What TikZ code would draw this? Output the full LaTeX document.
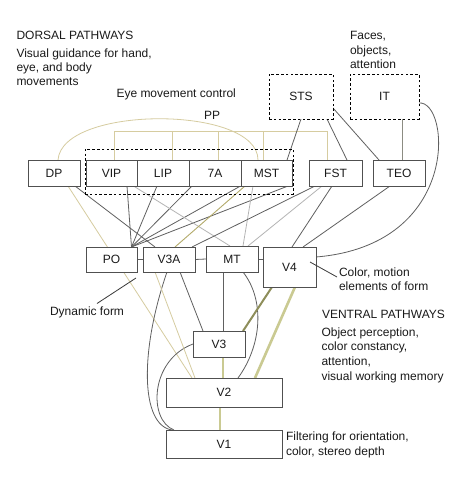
\documentclass[tikz,border=0pt]{standalone}
\usepackage{fontspec}
\setmainfont{Liberation Sans}
\usetikzlibrary{backgrounds,calc}
\definecolor{boxc}{HTML}{505050}
\definecolor{darkc}{HTML}{606060}
\definecolor{lightc}{HTML}{B4B4B4}
\definecolor{tanc}{HTML}{D6CCA0}
\definecolor{olivec}{HTML}{B3AA6A}
\definecolor{thickc}{HTML}{CACA92}
\definecolor{thickd}{HTML}{8E8E5A}
\definecolor{itc}{HTML}{8C8C82}
\definecolor{txtc}{HTML}{1A1A1A}
\definecolor{leadc}{HTML}{3A3A3A}
\begin{document}
\begin{tikzpicture}[x=1pt,y=-1pt,
  font=\fontsize{12}{14}\selectfont,
  box/.style={draw=boxc,line width=0.9pt,fill=white,inner sep=0pt,outer sep=0pt,minimum height=26pt,text=txtc},
  dbox/.style={draw=black,line width=0.85pt,dash pattern=on 2.6pt off 2.2pt,fill=white,inner sep=0pt,outer sep=0pt,text=txtc},
  lbl/.style={inner sep=0pt,outer sep=0pt,anchor=base west,text=txtc},
  dk/.style={draw=darkc,line width=0.8pt},
  lt/.style={draw=lightc,line width=0.8pt},
  tn/.style={draw=tanc,line width=0.8pt},
  ol/.style={draw=olivec,line width=0.9pt},
  thk/.style={draw=thickc,line width=2.6pt},
  thd/.style={draw=thickd,line width=2pt},
  lead/.style={draw=leadc,line width=0.8pt}]
\useasboundingbox (0,0) rectangle (457,484);

% boxes
\node[box,minimum width=52pt] (DP) at (54,173) {DP};
\node[box,minimum width=51pt] (VIP) at (111.5,173) {VIP};
\node[box,minimum width=52pt] (LIP) at (163,173) {LIP};
\node[box,minimum width=52pt] (A7) at (215,173) {7A};
\node[box,minimum width=51pt] (MST) at (266.5,173) {MST};
\node[box,minimum width=53pt] (FST) at (335.5,173) {FST};
\node[box,minimum width=52pt] (TEO) at (399,173) {TEO};
\node[dbox,minimum width=64pt,minimum height=45pt] (STS) at (301,96.5) {STS};
\node[dbox,minimum width=69pt,minimum height=45pt] (IT) at (384.5,96.5) {IT};
\node[dbox,fill=none,minimum width=208pt,minimum height=45pt] (PPbox) at (189,171.5) {};
\node[box,minimum width=51pt,minimum height=25pt] (PO) at (111.5,259.5) {PO};
\node[box,minimum width=52pt,minimum height=25pt] (V3A) at (169,259.5) {V3A};
\node[box,minimum width=52pt] (MT) at (232,259) {MT};
\node[box,minimum width=53pt,minimum height=40pt] (V4) at (289.5,267) {V4};
\node[box,minimum width=52pt] (V3) at (219,344) {V3};
\node[box,minimum width=116pt,minimum height=29pt] (V2) at (224,392.5) {V2};
\node[box,minimum width=116pt,minimum height=28pt] (V1) at (224,444) {V1};

% texts
\node[lbl] (dors) at (16.5,40) {DORSAL PATHWAYS};
\node[lbl] (dors1) at (16.5,57.5) {Visual guidance for hand,};
\node[lbl] (dors2) at (16.5,72) {eye, and body};
\node[lbl] (dors3) at (16.5,86) {movements};
\node[lbl] (eye) at (116.5,97.5) {Eye movement control};
\node[lbl] (pplbl) at (204,119) {PP};
\node[lbl] (face1) at (350,40) {Faces,};
\node[lbl] (face2) at (350,54.5) {objects,};
\node[lbl] (face3) at (350,69) {attention};
\node[lbl] (dyn) at (50,315.7) {Dynamic form};
\node[lbl] (col1) at (339,276.7) {Color, motion};
\node[lbl] (col2) at (339,290.7) {elements of form};
\node[lbl] (ven) at (322,318.3) {VENTRAL PATHWAYS};
\node[lbl] (ven1) at (321.5,336.7) {Object perception,};
\node[lbl] (ven2) at (321.5,350.7) {color constancy,};
\node[lbl] (ven3) at (321.5,365) {attention,};
\node[lbl] (ven4) at (321.5,380) {visual working memory};
\node[lbl] (fil1) at (286,440.7) {Filtering for orientation,};
\node[lbl] (fil2) at (286,455.7) {color, stereo depth};

% leader lines
\coordinate (dfA) at (136,278);
\coordinate (dfB) at (97,303.5);
\draw[lead] (dfB) -- (dfA);
\coordinate (cmA) at (310,262);
\coordinate (cmB) at (337,277);
\draw[lead] (cmA) -- (cmB);

\begin{scope}[on background layer]
\fill[white] (0,0) rectangle (457,484);
% PP tan connectors
\coordinate (bar) at (0,131.5);
\coordinate (pVIP) at ([xshift=2.5pt]VIP.north);
\coordinate (pLIP) at ([xshift=9pt]LIP.north);
\coordinate (p7A) at ([xshift=3pt]A7.north);
\coordinate (pMST) at ([xshift=-3.5pt]MST.north);
\coordinate (pFST) at ([xshift=-8.5pt]FST.north);
\draw[tn] (pVIP) -- (pVIP |- bar) -- (pFST |- bar) -- (pFST);
\foreach \p in {pLIP,p7A,pMST} \draw[tn] (\p) -- (\p |- bar);
\draw[tn] ([xshift=4pt]DP.north) .. controls (62,105) and (258,105) .. ([xshift=-8.5pt]MST.north);
% DP
\draw[tn] ([xshift=14pt]DP.south) -- ([xshift=-32pt]V2.north);
\draw[dk] ([xshift=21pt]DP.south) -- ([xshift=-14pt]V3A.north);
% fan into PO
\draw[dk] ([xshift=15.5pt]VIP.south) -- ([xshift=20pt]PO.north);
\draw[dk] ([xshift=-6pt]LIP.south) -- ([xshift=20pt]PO.north);
\draw[dk] ([xshift=-23pt]A7.south) -- ([xshift=20pt]PO.north);
\draw[dk] ([xshift=-26pt]MST.south) -- ([xshift=20pt]PO.north);
\draw[dk] ([xshift=21.5pt]MST.south) -- ([xshift=20pt]PO.north);
% light
\draw[lt] ([xshift=22pt]VIP.south) -- ([xshift=-2pt]MT.north);
\draw[lt] ([xshift=-13.5pt]MST.south) -- ([xshift=11pt]MT.north);
\draw[lt] ([xshift=-13.5pt]FST.south) -- ([xshift=16pt]MT.north);
% olive
\draw[ol] ([xshift=-21.5pt]MST.south) -- ([xshift=6pt]V3A.north);
% FST, TEO
\draw[dk] ([xshift=-20.5pt]FST.south) -- ([xshift=23pt]V3A.north);
\draw[dk] ([xshift=-3.5pt]FST.south) -- ([xshift=2.5pt]V4.north);
\draw[dk] ([xshift=-9pt]TEO.south) -- ([xshift=13.5pt]V4.north);
% STS, IT
\draw[dk] (STS.south) -- ([xshift=-5pt]MST.north east);
\draw[dk] ([xshift=26pt]STS.south) -- ([xshift=11.5pt]FST.north);
\draw[dk] ([yshift=-11.5pt]STS.east) -- ([xshift=-20pt]TEO.north);
\draw[draw=itc,line width=0.9pt] ([xshift=17.5pt]IT.south) -- ([xshift=3pt]TEO.north);
\draw[dk] ([yshift=-6.5pt]IT.east) .. controls (450,100) and (462,245) .. ([yshift=10pt]V4.east);
% lower row
\draw[dk] (PO.east) -- (V3A.west);
\draw[dk] (V3A.east) -- (MT.west);
\draw[dk] (MT.east) -- (MT.east -| V4.west);
\draw[dk] ([xshift=11pt]V3A.south) -- ([xshift=-16pt]V3.north);
\draw[dk] ([xshift=-2pt]V3A.south) .. controls (140,350) and (140,425) .. ([xshift=6pt]V1.north west);
\draw[dk] (V3.west) .. controls (150,360) and (148,420) .. ([xshift=8pt]V1.north west);
\draw[dk] ([xshift=-9pt]MT.south) -- ([xshift=4pt]V3.north);
\draw[dk] ([xshift=11pt]MT.south) .. controls (265,300) and (262,345) .. ([xshift=14pt]V2.north);
\draw[tn] ([xshift=-14pt]V3A.south) -- ([xshift=-29pt]V2.north);
\draw[thd] ([xshift=-17.5pt]V4.south) -- ([xshift=-2pt]V3.north east);
\draw[thk] ([xshift=5.5pt]V4.south) -- ([xshift=31pt]V2.north);
\draw[thk] ([xshift=4pt]V3.south) -- ([xshift=-1pt]V2.north);
\draw[thk] ([xshift=-4pt]V2.south) -- ([xshift=-4pt]V1.north);
\end{scope}
\end{tikzpicture}
\end{document}
